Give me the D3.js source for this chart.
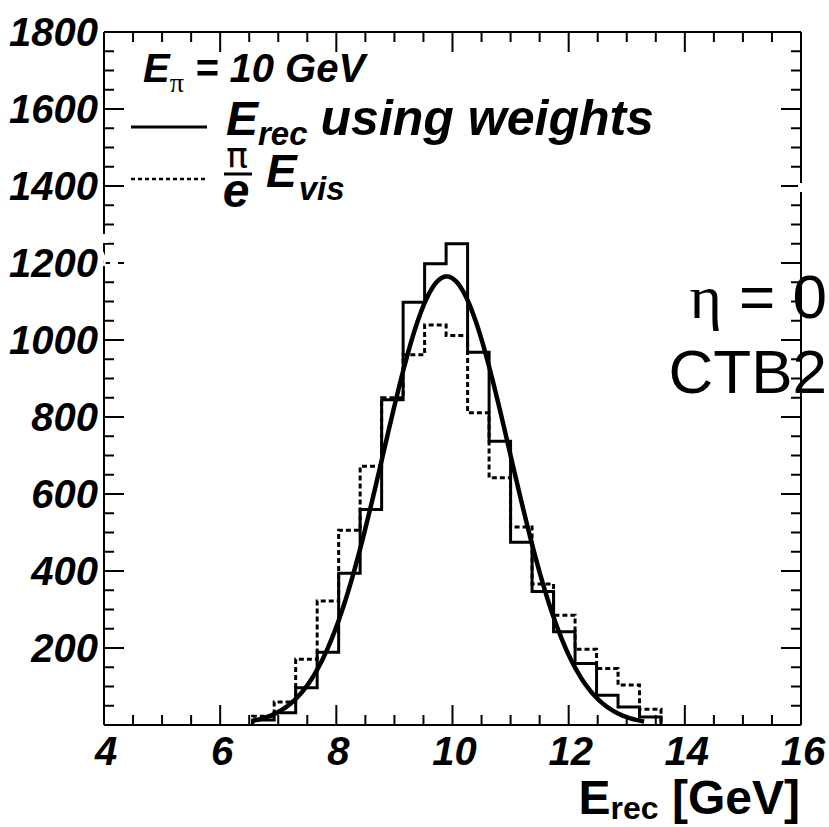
<!DOCTYPE html>
<html>
<head>
<meta charset="utf-8">
<script src="https://cdn.jsdelivr.net/npm/d3@7"></script>
<style>
  html, body { margin: 0; padding: 0; background: #fff; }
  svg { display: block; }
  text { font-family: 'Liberation Sans', Arial, Helvetica, sans-serif; fill: #000; }
</style>
</head>
<body>
<div id="chart"></div>
<script>
// histogram binning (GeV)
const binStart = 6.56;
const binWidth = 0.37;
// E_rec using weights (solid)
const recCounts = [13, 32, 97, 189, 394, 560, 845, 1098, 1198, 1250, 968, 737, 475, 347, 242, 160, 77, 47, 21];
// pi/e * E_vis (dashed)
const visCounts = [23, 60, 171, 322, 506, 672, 850, 962, 1039, 1012, 811, 642, 514, 366, 285, 197, 147, 104, 41];
// gaussian fit to E_rec
const fitAmp = 1165, fitMean = 9.90, fitSigma = 1.09;
const fitRange = [6.56, 13.3];

const xTicks = [4, 6, 8, 10, 12, 14, 16];
const yTicks = [200, 400, 600, 800, 1000, 1200, 1400, 1600, 1800];

const W = 829, H = 827;
const svg = d3.select('#chart').append('svg')
  .attr('width', W).attr('height', H);

const x = d3.scaleLinear().domain([4, 16]).range([104, 801]);
const y = d3.scaleLinear().domain([0, 1800]).range([725, 32]);

// ---- axes / frame ----
const frame = svg.append('g').attr('stroke', '#000').attr('stroke-width', 2);
frame.append('line').attr('x1', x(4)).attr('x2', x(16)).attr('y1', y(0)).attr('y2', y(0));
frame.append('line').attr('x1', x(4)).attr('x2', x(16)).attr('y1', y(1800)).attr('y2', y(1800));
frame.append('line').attr('x1', x(4)).attr('x2', x(4)).attr('y1', y(0)).attr('y2', y(1800));
frame.append('line').attr('x1', x(16)).attr('x2', x(16)).attr('y1', y(0)).attr('y2', y(1800));

const xMinor = d3.range(4, 16.001, 0.5);
const yMinor = d3.range(0, 1800.001, 50);
const isMajX = v => Math.abs(v / 2 - Math.round(v / 2)) < 1e-6;
const isMajY = v => v % 200 === 0;

const ticks = svg.append('g').attr('stroke', '#000').attr('stroke-width', 2);
xMinor.forEach(v => {
  const len = isMajX(v) ? 20 : 10;
  ticks.append('line').attr('x1', x(v)).attr('x2', x(v)).attr('y1', y(0)).attr('y2', y(0) - len);
  ticks.append('line').attr('x1', x(v)).attr('x2', x(v)).attr('y1', y(1800)).attr('y2', y(1800) + len);
});
yMinor.forEach(v => {
  const len = isMajY(v) ? 20 : 10;
  ticks.append('line').attr('x1', x(4)).attr('x2', x(4) + len).attr('y1', y(v)).attr('y2', y(v));
  ticks.append('line').attr('x1', x(16)).attr('x2', x(16) - len).attr('y1', y(v)).attr('y2', y(v));
});

// tick labels
svg.append('g').selectAll('text').data(xTicks).join('text')
  .attr('x', d => x(d) + 2).attr('y', 765)
  .attr('text-anchor', 'middle')
  .style('font-size', '40px').style('font-weight', 'bold').style('font-style', 'italic')
  .text(d => d);
svg.append('g').selectAll('text').data(yTicks).join('text')
  .attr('x', 98).attr('y', d => y(d) + 14)
  .attr('text-anchor', 'end')
  .style('font-size', '40px').style('font-weight', 'bold').style('font-style', 'italic')
  .text(d => d);

// axis title
const xt = svg.append('text').attr('x', 800).attr('y', 814).attr('text-anchor', 'end')
  .style('font-size', '48px').style('font-weight', 'bold');
xt.append('tspan').text('E');
xt.append('tspan').attr('dy', 5).style('font-size', '32px').text('rec');
xt.append('tspan').attr('dy', -5).text(' [GeV]');

// ---- histograms ----
function histPoints(counts) {
  const pts = [[binStart, 0]];
  counts.forEach((c, i) => pts.push([binStart + i * binWidth, c]));
  pts.push([binStart + counts.length * binWidth, 0]);
  return pts;
}
const step = d3.line().x(d => x(d[0])).y(d => y(d[1])).curve(d3.curveStepAfter);

svg.append('path').attr('d', step(histPoints(visCounts)))
  .attr('fill', 'none').attr('stroke', '#000').attr('stroke-width', 3)
  .attr('stroke-dasharray', '5,3');
svg.append('path').attr('d', step(histPoints(recCounts)))
  .attr('fill', 'none').attr('stroke', '#000').attr('stroke-width', 3);

// fit curve
const fitX = d3.range(fitRange[0], fitRange[1] + 1e-9, 0.02);
const gauss = v => fitAmp * Math.exp(-0.5 * ((v - fitMean) / fitSigma) ** 2);
svg.append('path')
  .attr('d', d3.line().x(d => x(d)).y(d => y(gauss(d))).curve(d3.curveLinear)(fitX))
  .attr('fill', 'none').attr('stroke', '#000').attr('stroke-width', 4.5);

// ---- legend ----
const bi = s => s.style('font-weight', 'bold').style('font-style', 'italic');

const t1 = svg.append('text').attr('x', 143).attr('y', 82).style('font-size', '40px');
bi(t1.append('tspan').text('E'));
t1.append('tspan').attr('dy', 10).style('font-size', '28px')
  .style('font-family', "'Liberation Serif', 'Times New Roman', serif").text('π');
bi(t1.append('tspan').attr('dy', -10).text(' = 10 GeV'));

svg.append('line').attr('x1', 131).attr('x2', 207).attr('y1', 127).attr('y2', 127)
  .attr('stroke', '#000').attr('stroke-width', 3);
const t2 = svg.append('text').attr('x', 226).attr('y', 135).style('font-size', '48px');
bi(t2.append('tspan').text('E'));
bi(t2.append('tspan').attr('dy', 10).style('font-size', '33px').text('rec'));
bi(t2.append('tspan').attr('dy', -10).attr('dx', 13).style('font-size', '50px').text('using weights'));

svg.append('line').attr('x1', 131).attr('x2', 207).attr('y1', 179).attr('y2', 179)
  .attr('stroke', '#000').attr('stroke-width', 2.5).attr('stroke-dasharray', '4,3');
svg.append('text').attr('x', 237).attr('y', 168).attr('text-anchor', 'middle')
  .style('font-size', '36px')
  .style('font-family', "'DejaVu Sans', sans-serif").text('π');
svg.append('line').attr('x1', 224).attr('x2', 252).attr('y1', 174).attr('y2', 174)
  .attr('stroke', '#000').attr('stroke-width', 3);
bi(svg.append('text').attr('x', 236).attr('y', 207).attr('text-anchor', 'middle')
  .style('font-size', '48px')).text('e');
const t3 = svg.append('text').attr('x', 266).attr('y', 187).style('font-size', '46px');
bi(t3.append('tspan').text('E'));
bi(t3.append('tspan').attr('dy', 13).attr('dx', 2).style('font-size', '33px').text('vis'));

// ---- annotation ----
const a1 = svg.append('text').attr('x', 827).attr('y', 318).attr('text-anchor', 'end')
  .style('font-size', '62px');
a1.append('tspan').style('font-family', "'Liberation Serif', 'Times New Roman', serif").text('η');
a1.append('tspan').text(' = 0');
svg.append('text').attr('x', 827).attr('y', 393).attr('text-anchor', 'end')
  .style('font-size', '62px').text('CTB2');

// white blemishes seen in the original print
svg.append('rect').attr('x', 102).attr('y', 234).attr('width', 6).attr('height', 9).attr('fill', '#fff');
svg.append('path').attr('d', 'M100,249 Q106,256 104,266').attr('fill', 'none')
  .attr('stroke', '#fff').attr('stroke-width', 2.5);
svg.append('line').attr('x1', 110).attr('x2', 118).attr('y1', y(1200)).attr('y2', y(1200))
  .attr('stroke', '#fff').attr('stroke-width', 2.5);
svg.append('rect').attr('x', 798).attr('y', 183).attr('width', 6).attr('height', 9).attr('fill', '#fff');
</script>
</body>
</html>
